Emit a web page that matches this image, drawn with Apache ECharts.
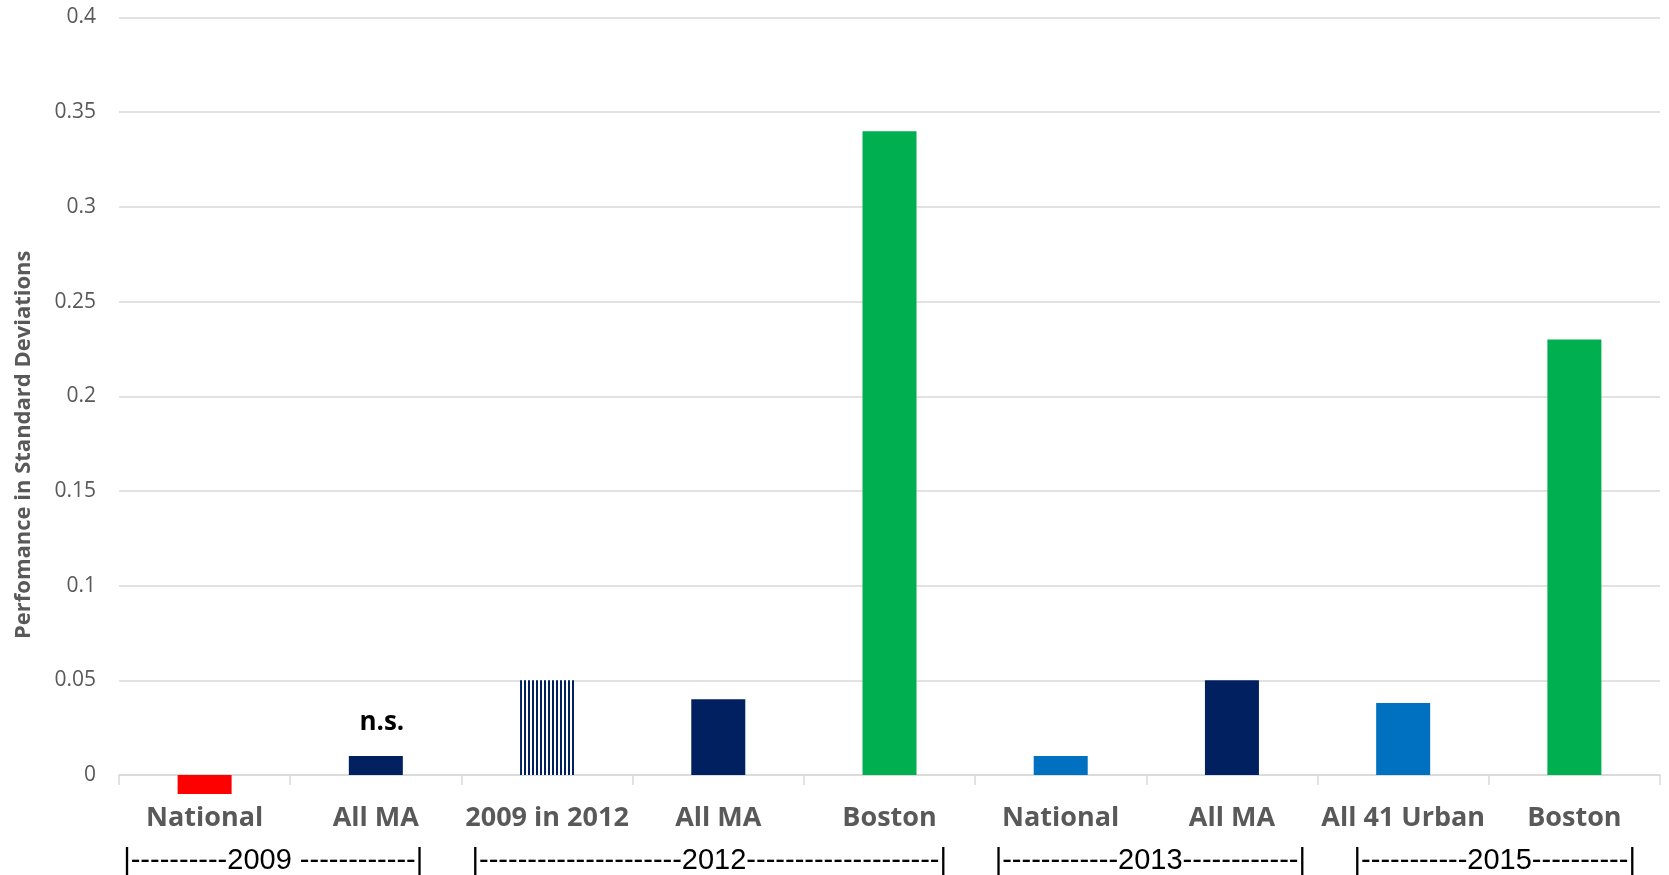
<!DOCTYPE html>
<html>
<head>
<meta charset="utf-8">
<script src="https://cdn.jsdelivr.net/npm/echarts@6/dist/echarts.min.js"></script>
<style>
  html, body { margin: 0; padding: 0; background: #ffffff; }
  #chart { width: 1669px; height: 875px; }
</style>
</head>
<body>
<div id="chart"></div>
<script>
// ---- data ----
var categories = ['National', 'All MA', '2009 in 2012', 'All MA', 'Boston', 'National', 'All MA', 'All 41 Urban', 'Boston'];
var values = [-0.01, 0.01, 0.05, 0.04, 0.34, 0.01, 0.05, 0.038, 0.23];
var yTicks = { min: 0, max: 0.4, interval: 0.05 };
var groupLabels = ['|----------2009 ------------|', '|---------------------2012--------------------|', '|------------2013------------|', '|-----------2015----------|'];
var groupFirst = [0, 2, 5, 7];
var groupLast = [1, 4, 6, 8];
var nsIndex = 1;
var nsText = 'n.s.';
var yAxisTitle = 'Perfomance in Standard Deviations';

// ---- styles ----
function stripePattern() {
  var c = document.createElement('canvas');
  c.width = 4; c.height = 4;
  var ctx = c.getContext('2d');
  ctx.fillStyle = '#ffffff';
  ctx.fillRect(0, 0, 4, 4);
  ctx.fillStyle = '#002060';
  ctx.fillRect(0, 0, 2, 4);
  return { image: c, repeat: 'repeat' };
}
var barColors = ['#FF0000', '#002060', stripePattern(), '#002060', '#00B050', '#0070C0', '#002060', '#0070C0', '#00B050'];
var groupOffsets = [-17, -9, 4, 6];

var chart = echarts.init(document.getElementById('chart'));

var seriesData = values.map(function (v, i) {
  var item = { value: v, itemStyle: { color: barColors[i] } };
  if (i === nsIndex) {
    item.label = {
      show: true, position: 'top', distance: 20, offset: [6, 0],
      formatter: nsText, color: '#000000', fontFamily: 'Open Sans',
      fontWeight: 'bold', fontSize: 26
    };
  }
  return item;
});

chart.setOption({
  animation: false,
  grid: { left: 119, right: 9, top: 17.5, bottom: 100, containLabel: false },
  xAxis: {
    type: 'category',
    data: categories,
    axisLine: { lineStyle: { color: '#d9d9d9', width: 1.5 } },
    axisTick: { show: true, length: 10, lineStyle: { color: '#d9d9d9', width: 1.5 } },
    axisLabel: {
      interval: 0, margin: 30, color: '#595959', fontFamily: 'Open Sans',
      fontWeight: 'bold', fontSize: 27
    },
    splitLine: { show: false }
  },
  yAxis: {
    type: 'value',
    min: yTicks.min, max: yTicks.max, interval: yTicks.interval,
    name: yAxisTitle,
    nameLocation: 'middle',
    nameRotate: 90,
    nameGap: 84,
    nameTextStyle: {
      color: '#595959', fontFamily: 'Open Sans', fontWeight: 'bold', fontSize: 22,
      padding: [0, 97, 0, 0]
    },
    axisLine: { show: false },
    axisTick: { show: false },
    axisLabel: { margin: 23, color: '#595959', fontFamily: 'Open Sans', fontSize: 21 },
    splitLine: { lineStyle: { color: '#d9d9d9', width: 1.5 } }
  },
  series: [{
    type: 'bar',
    data: seriesData,
    barWidth: 54,
    clip: false
  }]
});

// group labels under the category labels, centred on their categories
var graphics = groupLabels.map(function (txt, g) {
  var x1 = chart.convertToPixel({ xAxisIndex: 0 }, groupFirst[g]);
  var x2 = chart.convertToPixel({ xAxisIndex: 0 }, groupLast[g]);
  return {
    type: 'text',
    x: (x1 + x2) / 2 + groupOffsets[g],
    y: 861,
    style: {
      text: txt, align: 'center', verticalAlign: 'middle',
      fill: '#000000', fontFamily: 'Liberation Sans', fontSize: 29
    }
  };
});
chart.setOption({ graphic: graphics });
</script>
</body>
</html>
